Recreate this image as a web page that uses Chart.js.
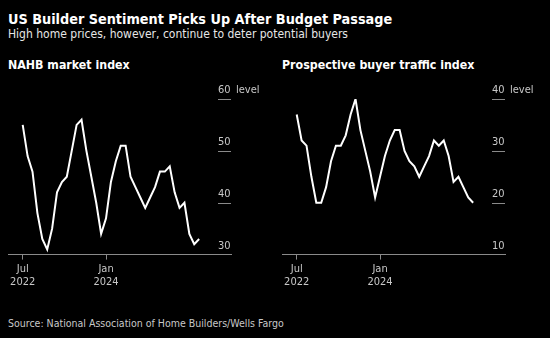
<!DOCTYPE html>
<html>
<head>
<meta charset="utf-8">
<script src="https://cdn.jsdelivr.net/npm/chart.js@4"></script>
<style>
  body { margin: 0; background: #000; width: 550px; height: 338px; overflow: hidden; position: relative;
         font-family: "DejaVu Sans Condensed", "DejaVu Sans", sans-serif; line-height: 1; }
  .txt { position: absolute; white-space: nowrap; }
  #title { left: 8px; top: 12px; font-size: 14.3px; font-weight: bold; color: #fff; }
  #sub { left: 8px; top: 28px; font-size: 12px; color: #e6e6e6; }
  .ptitle { top: 59px; font-size: 12.3px; font-weight: bold; color: #fff; }
  #src { left: 8px; top: 318px; font-size: 10.5px; color: #c8c8c8; }
  .panel { position: absolute; top: 50px; width: 275px; height: 250px; }
</style>
</head>
<body>
<div class="txt" id="title">US Builder Sentiment Picks Up After Budget Passage</div>
<div class="txt" id="sub">High home prices, however, continue to deter potential buyers</div>
<div class="txt ptitle" style="left:8px">NAHB market index</div>
<div class="txt ptitle" style="left:282px">Prospective buyer traffic index</div>
<div class="panel" style="left:0"><canvas id="nahb"></canvas></div>
<div class="panel" style="left:274px"><canvas id="traffic"></canvas></div>
<div class="txt" id="src">Source: National Association of Home Builders/Wells Fargo</div>

<script>
// monthly, Jul 2022 .. Jul 2025
const nahbIndex = [
    55, 49, 46, 38, 33, 31,
    35, 42, 44, 45, 50, 55, 56, 50, 45, 40, 34, 37,
    44, 48, 51, 51, 45, 43, 41, 39, 41, 43, 46, 46,
    47, 42, 39, 40, 34, 32, 33,
];
const buyerTraffic = [
    37, 32, 31, 25, 20, 20,
    23, 28, 31, 31, 33, 37, 40, 34, 30, 26, 21, 25,
    29, 32, 34, 34, 30, 28, 27, 25, 27, 29, 32, 31,
    32, 29, 24, 25, 23, 21, 20,
];

const xTicks = [0, 17];
const xTickLabels = [["Jul", "2022"], ["Jan", "2024"]];
const nahbTicks = [30, 40, 50, 60];
const trafficTicks = [10, 20, 30, 40];
const unitLabel = "level";

const labelFont = '11px "DejaVu Sans Condensed", "DejaVu Sans", sans-serif';

// y labels sit above a short dash at the right side of the plot
const yLabels = {
    id: "yLabels",
    afterDraw(chart, args, opts) {
        const { ctx, chartArea, scales } = chart;
        const y = scales.y;
        const x0 = chartArea.right - 13;
        ctx.save();
        ctx.font = labelFont;
        ctx.textAlign = "left";
        ctx.textBaseline = "alphabetic";
        opts.values.forEach((v, i) => {
            const py = Math.round(y.getPixelForValue(v)) + 0.5;
            if (v !== y.min) {
                ctx.strokeStyle = "#8a8a8a";
                ctx.lineWidth = 1;
                ctx.beginPath();
                ctx.moveTo(x0, py);
                ctx.lineTo(chartArea.right, py);
                ctx.stroke();
            }
            ctx.fillStyle = "#c8c8c8";
            ctx.fillText(String(v), x0, py - 7);
            if (i === opts.values.length - 1) {
                ctx.fillText(unitLabel, chartArea.right + 5, py - 7);
            }
        });
        ctx.restore();
    },
};

function makeChart(id, values, ticks) {
    return new Chart(document.getElementById(id), {
        type: "line",
        data: {
            datasets: [
                {
                    data: values.map((v, i) => ({ x: i, y: v })),
                    borderColor: "#ffffff",
                    borderWidth: 2,
                    pointRadius: 0,
                    tension: 0,
                },
            ],
        },
        options: {
            responsive: true,
            maintainAspectRatio: false,
            animation: false,
            layout: { padding: { left: 8, right: 44, top: 49, bottom: 8 } },
            plugins: {
                legend: false,
                tooltip: { enabled: false },
                yLabels: { values: ticks },
            },
            scales: {
                x: {
                    type: "linear",
                    min: -3,
                    max: 42.5,
                    afterBuildTicks(axis) {
                        axis.ticks = xTicks.map((v) => ({ value: v }));
                    },
                    grid: {
                        drawOnChartArea: false,
                        drawTicks: true,
                        tickLength: 5,
                        color: "#8a8a8a",
                    },
                    border: { color: "#8a8a8a", width: 1 },
                    ticks: {
                        autoSkip: false,
                        maxRotation: 0,
                        padding: 3,
                        color: "#c8c8c8",
                        font: { family: '"DejaVu Sans Condensed", "DejaVu Sans", sans-serif', size: 11 },
                        callback: (value) => xTickLabels[xTicks.indexOf(value)],
                    },
                },
                y: {
                    display: false,
                    min: ticks[0],
                    max: ticks[ticks.length - 1],
                },
            },
        },
        plugins: [yLabels],
    });
}

makeChart("nahb", nahbIndex, nahbTicks);
makeChart("traffic", buyerTraffic, trafficTicks);
</script>
</body>
</html>
